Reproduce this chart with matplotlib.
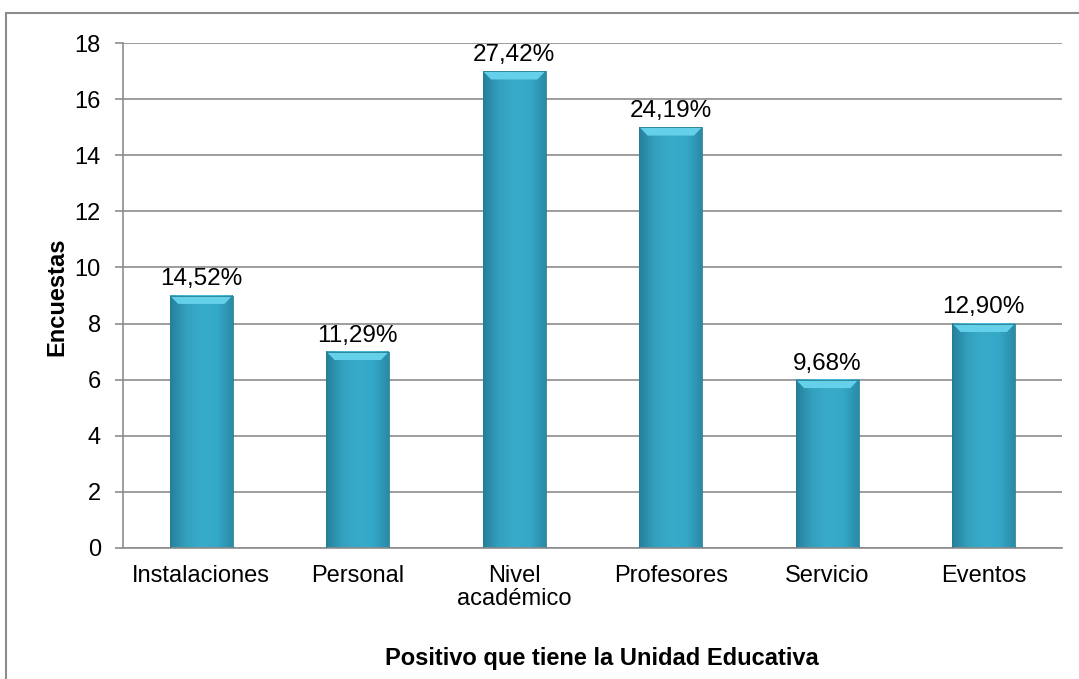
import numpy as np
import matplotlib.pyplot as plt
from matplotlib.patches import Rectangle, Polygon
from matplotlib.colors import LinearSegmentedColormap

plt.rcParams['font.family'] = ['Liberation Sans', 'DejaVu Sans']

categorias = ['Instalaciones', 'Personal', 'Nivel\nacadémico', 'Profesores', 'Servicio', 'Eventos']
encuestas = [9, 7, 17, 15, 6, 8]
porcentajes = ['14,52%', '11,29%', '27,42%', '24,19%', '9,68%', '12,90%']

W, H = 1079, 679
fig = plt.figure(figsize=(W / 100, H / 100), dpi=100, facecolor='white')
ax = fig.add_axes([123 / W, 1 - 548 / H, (1062 - 123) / W, (548 - 43) / H])

# outer chart border (only left/top visible in the crop)
fig.patches.append(Rectangle((6 / W, -0.1), 1.2, 1 - 13 / H + 0.1, transform=fig.transFigure,
                             fill=False, edgecolor='#8c8c8c', linewidth=1.5, zorder=0))

x = np.arange(len(categorias))
ancho = 0.4

# horizontal gradient for the bevel look
cmap = LinearSegmentedColormap.from_list('barra', ['#2f9cbc', '#3bbadc', '#3ebcde', '#37b0d2', '#2a8ba7'])
grad = np.linspace(0, 1, 64).reshape(1, -1)
vert = np.linspace(0.82, 1.0, 64).reshape(-1, 1)

for xi, v, lab in zip(x, encuestas, porcentajes):
    x0, x1 = xi - ancho / 2, xi + ancho / 2
    rgba = cmap(np.repeat(grad, 64, axis=0))
    rgba[..., :3] *= vert  # darker toward the bottom
    ax.imshow(rgba, extent=[x0, x1, 0, v], origin='lower', aspect='auto', zorder=2,
              interpolation='bilinear')
    # top bevel
    bev_x = ancho * 0.13
    bev_y = 0.3
    ax.add_patch(Polygon([[x0, v], [x1, v], [x1 - bev_x, v - bev_y], [x0 + bev_x, v - bev_y]],
                         closed=True, facecolor='#64d0ea', edgecolor='none', zorder=3))
    ax.add_patch(Rectangle((x0, 0), ancho, v, fill=False, edgecolor='#257d94', linewidth=0.6, zorder=3))
    ax.text(xi, v + 0.36, lab, ha='center', va='baseline', fontsize=17.5, color='black', zorder=4)

ax.set_xlim(-0.5, len(categorias) - 0.5)
ax.set_ylim(0, 18)
ax.set_yticks(range(0, 19, 2))
ax.set_xticks(x)
ax.set_xticklabels(categorias, fontsize=17, linespacing=1.1)
ax.tick_params(axis='y', labelsize=17, length=6, color='#8c8c8c', width=1.2, pad=10)
ax.tick_params(axis='x', length=0, pad=12)

ax.grid(axis='y', color='#8c8c8c', linewidth=1.2, zorder=0)
ax.set_axisbelow(True)
for s in ['top', 'right']:
    ax.spines[s].set_visible(False)
ax.spines['left'].set_color('#8c8c8c')
ax.spines['left'].set_linewidth(1.2)
ax.spines['bottom'].set_color('#8c8c8c')
ax.spines['bottom'].set_linewidth(1.2)

fig.text(57 / W, 1 - 297 / H, 'Encuestas', rotation=90, ha='center', va='center',
         fontsize=17, fontweight='bold')
fig.text(602 / W, 1 - 665 / H, 'Positivo que tiene la Unidad Educativa', ha='center', va='baseline',
         fontsize=17, fontweight='bold')

fig.savefig('out.png', dpi=100, facecolor='white')
